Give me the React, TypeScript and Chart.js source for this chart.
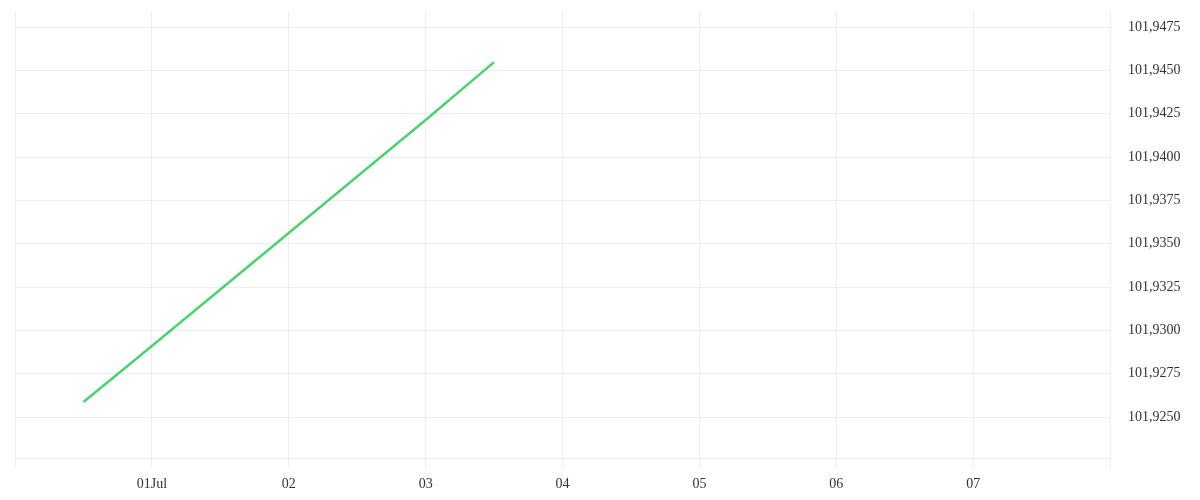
import { useRef, useEffect } from 'react';
import { Chart, registerables } from 'chart.js';

Chart.register(...registerables);

// x values are days counted from 30 Jun 00:00
const dayOffsets = [0.5, 1, 2, 3, 3.5];
const prices = [101.92587, 101.9291, 101.93562, 101.94214, 101.94548];
const dayLabels = ['', '01Jul', '02', '03', '04', '05', '06', '07', ''];
const yTicks = [101.925, 101.9275, 101.93, 101.9325, 101.935, 101.9375, 101.94, 101.9425, 101.945, 101.9475];

const gridColor = '#ededed';
const textColor = '#333333';
const font = { family: "'Liberation Serif', serif", size: 14 };

export default function App() {
  const canvasRef = useRef<HTMLCanvasElement>(null);

  useEffect(() => {
    const canvas = canvasRef.current;
    if (!canvas) return;
    const context = canvas.getContext('2d');
    if (!context) return;

    const chart = new Chart(context, {
      type: 'line',
      data: {
        datasets: [{
          data: dayOffsets.map((x, i) => ({ x, y: prices[i] })),
          borderColor: '#4cd26f',
          borderWidth: 2.5,
          pointRadius: 0,
          fill: false,
          tension: 0
        }]
      },
      options: {
        animation: false,
        responsive: true,
        maintainAspectRatio: false,
        layout: { padding: { top: 4, left: 7, right: 0, bottom: 0 } },
        plugins: {
          legend: { display: false },
          tooltip: { enabled: false }
        },
        scales: {
          x: {
            type: 'linear',
            min: 0,
            max: 8,
            grid: { color: gridColor, tickLength: 9 },
            border: { color: gridColor },
            afterFit: (axis) => {
              axis.paddingLeft = 0;
              axis.paddingRight = 0;
            },
            ticks: {
              stepSize: 1,
              autoSkip: false,
              maxRotation: 0,
              padding: 9,
              color: textColor,
              font,
              callback: (v) => dayLabels[Number(v)] ?? ''
            }
          },
          y: {
            position: 'right',
            min: 101.92263,
            max: 101.94837,
            grid: { color: gridColor, drawTicks: false },
            border: { color: gridColor },
            afterBuildTicks: (axis) => {
              axis.ticks = yTicks.map((value) => ({ value }));
            },
            afterFit: (axis) => {
              axis.width = 82;
              axis.paddingTop = 0;
              axis.paddingBottom = 0;
            },
            ticks: {
              padding: 18,
              color: textColor,
              font,
              callback: (v) => Number(v).toFixed(4).replace('.', ',')
            }
          }
        }
      }
    });

    return () => {
      chart.destroy();
    };
  }, []);

  return (
    <div style={{ position: 'relative', width: '100%', height: 494 }}>
      <canvas ref={canvasRef} />
    </div>
  );
}
